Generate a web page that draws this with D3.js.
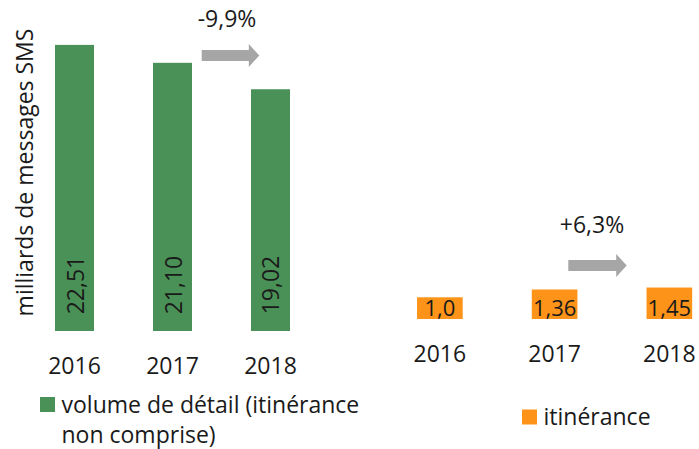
<!DOCTYPE html>
<html>
<head>
<meta charset="utf-8">
<script src="https://cdn.jsdelivr.net/npm/d3@7"></script>
<style>
  html, body { margin: 0; padding: 0; background: #fff; }
  svg text { font-family: "Open Sans", sans-serif; fill: #1a1a1a; }
</style>
</head>
<body>
<div id="chart"></div>
<script>
const years = ['2016', '2017', '2018'];
const retailValues = [22.51, 21.10, 19.02];
const retailLabels = ['22,51', '21,10', '19,02'];
const roamingValues = [1.0, 1.36, 1.45];
const roamingLabels = ['1,0', '1,36', '1,45'];
const changeLabels = ['-9,9%', '+6,3%'];
const legendLabels = [['volume de détail (itinérance', 'non comprise)'], ['itinérance']];
const axisTitle = 'milliards de messages SMS';

const width = 699;
const height = 449;
const green = '#4a9157';
const orange = '#fd9419';
const arrowGrey = '#a6a6a6';

const svg = d3.select('#chart')
  .append('svg')
  .attr('width', width)
  .attr('height', height);

// Left panel: retail volume
const xLeft = d3.scaleBand().domain(years).range([25.6, 319.4])
  .paddingInner(0.602).paddingOuter(0.3);
const yLeft = d3.scaleLinear().domain([0, 25]).range([331, 331 - 25 * 12.71]);

// Right panel: roaming
const xRight = d3.scaleBand().domain(years).range([382.6, 726.6])
  .paddingInner(0.602).paddingOuter(0.3);
const yRight = d3.scaleLinear().domain([0, 2]).range([319, 319 - 2 * 21.7]);

const left = svg.append('g');
left.selectAll('rect')
  .data(retailValues)
  .enter()
  .append('rect')
  .attr('x', (d, i) => xLeft(years[i]))
  .attr('y', d => yLeft(d))
  .attr('width', xLeft.bandwidth())
  .attr('height', d => yLeft(0) - yLeft(d))
  .attr('fill', green);

left.selectAll('text.value')
  .data(retailLabels)
  .enter()
  .append('text')
  .attr('class', 'value')
  .attr('transform', (d, i) => `translate(${xLeft(years[i]) + xLeft.bandwidth() / 2 + 9}, ${yLeft(0) - 46}) rotate(-90)`)
  .attr('text-anchor', 'middle')
  .style('font-size', '23px')
  .text(d => d);

left.selectAll('text.year')
  .data(years)
  .enter()
  .append('text')
  .attr('class', 'year')
  .attr('x', d => xLeft(d) + xLeft.bandwidth() / 2)
  .attr('y', 374)
  .attr('text-anchor', 'middle')
  .style('font-size', '23px')
  .text(d => d);

svg.append('text')
  .attr('transform', 'translate(33, 172.5) rotate(-90)')
  .attr('text-anchor', 'middle')
  .style('font-size', '23px')
  .text(axisTitle);

const right = svg.append('g');
right.selectAll('rect')
  .data(roamingValues)
  .enter()
  .append('rect')
  .attr('x', (d, i) => xRight(years[i]))
  .attr('y', d => yRight(d))
  .attr('width', xRight.bandwidth())
  .attr('height', d => yRight(0) - yRight(d))
  .attr('fill', orange);

right.selectAll('text.value')
  .data(roamingLabels)
  .enter()
  .append('text')
  .attr('class', 'value')
  .attr('x', (d, i) => xRight(years[i]) + xRight.bandwidth() / 2)
  .attr('y', 316)
  .attr('text-anchor', 'middle')
  .style('font-size', '22px')
  .text(d => d);

right.selectAll('text.year')
  .data(years)
  .enter()
  .append('text')
  .attr('class', 'year')
  .attr('x', d => xRight(d) + xRight.bandwidth() / 2)
  .attr('y', 362)
  .attr('text-anchor', 'middle')
  .style('font-size', '23px')
  .text(d => d);

// Arrows with change labels
function arrow(g, x0, x1, yc) {
  const shaft = 5.5, head = 11.5, headLen = 10.5;
  g.append('path')
    .attr('d', `M${x0},${yc - shaft} L${x1 - headLen},${yc - shaft} L${x1 - headLen},${yc - head}
      L${x1},${yc} L${x1 - headLen},${yc + head} L${x1 - headLen},${yc + shaft} L${x0},${yc + shaft} Z`)
    .attr('fill', arrowGrey);
}
arrow(svg, 201.7, 259.3, 55.5);
arrow(svg, 568.3, 626.7, 265.5);

svg.append('text')
  .attr('x', 227).attr('y', 27)
  .attr('text-anchor', 'middle')
  .style('font-size', '23px')
  .text(changeLabels[0]);
svg.append('text')
  .attr('x', 592).attr('y', 233)
  .attr('text-anchor', 'middle')
  .style('font-size', '23px')
  .text(changeLabels[1]);

// Legends
const legends = [
  { x: 40, y: 397, color: green, lines: legendLabels[0] },
  { x: 522, y: 409.5, color: orange, lines: legendLabels[1] }
];
legends.forEach(l => {
  svg.append('rect')
    .attr('x', l.x).attr('y', l.y)
    .attr('width', 15).attr('height', 15)
    .attr('fill', l.color);
  l.lines.forEach((line, i) => {
    svg.append('text')
      .attr('x', l.x + 21.5)
      .attr('y', l.y + 15.5 + i * 30)
      .style('font-size', '23px')
      .text(line);
  });
});
</script>
</body>
</html>
